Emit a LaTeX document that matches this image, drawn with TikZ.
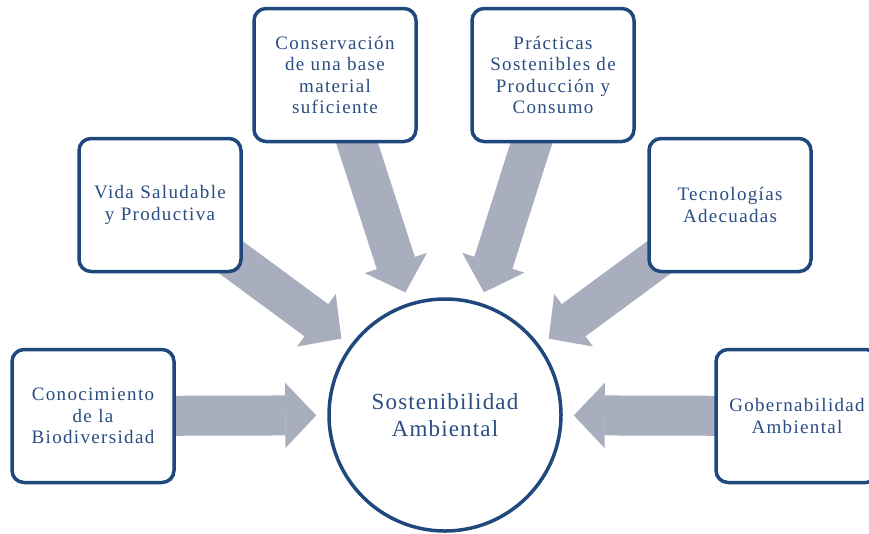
\documentclass[tikz,border=0pt]{standalone}
\usepackage{fontspec}
\setmainfont{Liberation Serif}[LetterSpace=7]
\usepackage{tikz}
\usetikzlibrary{arrows.meta,backgrounds}
\definecolor{marco}{HTML}{1F497D}
\definecolor{letra}{HTML}{2A4D82}
\definecolor{gris}{HTML}{A9AEBE}
\tikzset{
    caja/.style={
        draw=marco,
        line width=3.5pt,
        rounded corners=12pt,
        fill=white,
        minimum width=162pt,
        minimum height=133pt,
        text width=155pt,
        align=center,
        text=letra,
        font=\fontsize{19}{21.5}\selectfont
    },
    meta/.style={
        circle,
        draw=marco,
        line width=3.5pt,
        fill=white,
        minimum size=232pt,
        align=center,
        text=letra,
        font=\fontsize{23}{27}\selectfont\addfontfeatures{LetterSpace=5}
    },
    flecha/.style={
        draw=gris,
        line width=40pt,
        shorten >=11pt,
        -{Triangle[width=65pt,length=31pt,line width=1.5pt]}
    }
}
\begin{document}
\begin{tikzpicture}[x=1pt,y=-1pt]
    \clip (0,0) rectangle (869,533);
    \useasboundingbox (0,0) rectangle (869,533);

    %% centro
    \node (Sost) [meta] at (445,415) {Sostenibilidad\\Ambiental};

    %% cajas
    \node (Cono) [caja] at (93,416) {Conocimiento\\de la\\Biodiversidad};
    \node (Vida) [caja] at (160,205) {Vida Saludable\\y Productiva};
    \node (Cons) [caja] at (335,75) {Conservación\\de una base\\material\\suficiente};
    \node (Prac) [caja] at (553,75) {Prácticas\\Sostenibles de\\Producción y\\Consumo};
    \node (Tecn) [caja] at (730,205) {Tecnologías\\Adecuadas};
    \node (Gobe) [caja] at (797,416) {Gobernabilidad\\Ambiental};

    %% flechas
    \begin{scope}[on background layer]
        \draw[flecha] (Cono.center) -- (Sost);
        \draw[flecha] (Vida.center) -- (Sost);
        \draw[flecha] (Cons.center) -- (Sost);
        \draw[flecha] (Prac.center) -- (Sost);
        \draw[flecha] (Tecn.center) -- (Sost);
        \draw[flecha] (Gobe.center) -- (Sost);
    \end{scope}

\end{tikzpicture}
\end{document}
